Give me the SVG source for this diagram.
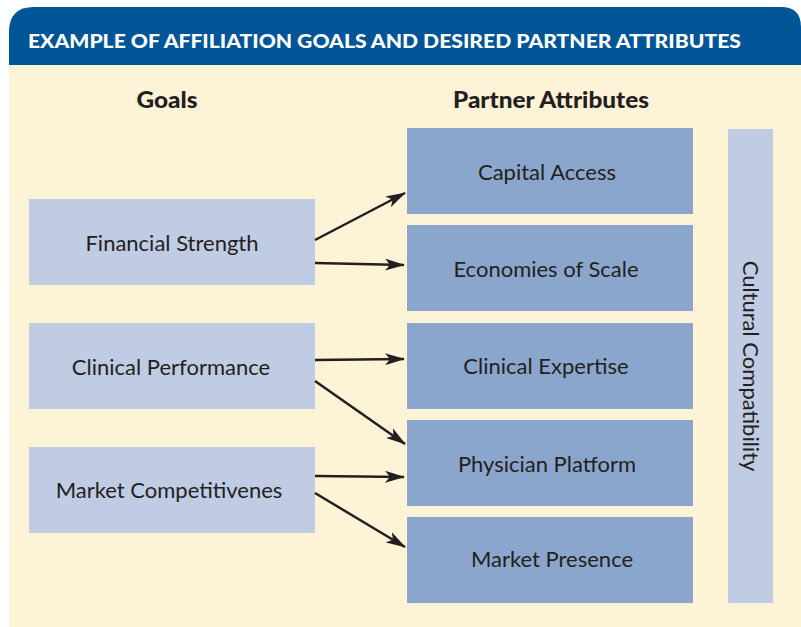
<svg xmlns="http://www.w3.org/2000/svg" width="801" height="627" viewBox="0 0 801 627">
  <defs>
    <style>
      .panel { fill: #FDF3D6; }
      .header { fill: #005596; }
      .title { font-family: Lato, "Open Sans", sans-serif; font-weight: 900; font-size: 19px; fill: #FFFFFF; }
      .heading { font-family: Lato, "Open Sans", sans-serif; font-weight: 900; font-size: 23px; fill: #231F20; text-anchor: middle; }
      .goal { fill: #C0CCE4; }
      .attr { fill: #8BA6CC; }
      .band { fill: #C0CCE4; }
      .label { font-family: Lato, "Open Sans", sans-serif; font-size: 22px; fill: #231F20; text-anchor: middle; dominant-baseline: central; }
      .link { stroke: #231F20; stroke-width: 2.5; fill: none; marker-end: url(#arrow); }
    </style>
    <marker id="arrow" viewBox="0 0 20 12" refX="19" refY="6" markerWidth="20" markerHeight="12" markerUnits="userSpaceOnUse" orient="auto">
      <path d="M0,0 L20,6 L0,12 L5,6 Z" fill="#231F20"/>
    </marker>
  </defs>

  <!-- background panel and header band -->
  <rect class="panel" x="9" y="40" width="792" height="587"/>
  <path class="header" d="M9,65 L9,32 Q9,7 34,7 L781,7 Q801,7 801,27 L801,65 Z"/>
  <text class="title" x="28" y="48" textLength="713" lengthAdjust="spacingAndGlyphs">EXAMPLE OF AFFILIATION GOALS AND DESIRED PARTNER ATTRIBUTES</text>

  <!-- column headings -->
  <text class="heading" x="167" y="108" textLength="61" lengthAdjust="spacingAndGlyphs">Goals</text>
  <text class="heading" x="551" y="108" textLength="196" lengthAdjust="spacingAndGlyphs">Partner Attributes</text>

  <!-- goals -->
  <g id="goal-financial">
    <rect class="goal" x="29" y="199" width="286" height="86"/>
    <text class="label" x="172" y="242">Financial Strength</text>
  </g>
  <g id="goal-clinical">
    <rect class="goal" x="29" y="323" width="286" height="86"/>
    <text class="label" x="171" y="366">Clinical Performance</text>
  </g>
  <g id="goal-market">
    <rect class="goal" x="29" y="447" width="286" height="86"/>
    <text class="label" x="169" y="489">Market Competitivenes</text>
  </g>

  <!-- partner attributes -->
  <g id="attr-capital">
    <rect class="attr" x="407" y="128" width="286" height="86"/>
    <text class="label" x="547" y="171">Capital Access</text>
  </g>
  <g id="attr-scale">
    <rect class="attr" x="407" y="225" width="286" height="86"/>
    <text class="label" x="546" y="268">Economies of Scale</text>
  </g>
  <g id="attr-expertise">
    <rect class="attr" x="407" y="323" width="286" height="86"/>
    <text class="label" x="546" y="365">Clinical Expertise</text>
  </g>
  <g id="attr-physician">
    <rect class="attr" x="407" y="420" width="286" height="86"/>
    <text class="label" x="547" y="463">Physician Platform</text>
  </g>
  <g id="attr-presence">
    <rect class="attr" x="407" y="517" width="286" height="86"/>
    <text class="label" x="552" y="558">Market Presence</text>
  </g>

  <!-- cultural compatibility band -->
  <g id="band-culture">
    <rect class="band" x="728" y="129" width="45" height="474"/>
    <text class="label" transform="translate(751,366) rotate(90)">Cultural Compatibility</text>
  </g>

  <!-- connectors -->
  <g id="connectors">
    <line class="link" x1="315" y1="240" x2="405" y2="193"/>
    <line class="link" x1="315" y1="263" x2="404" y2="265"/>
    <line class="link" x1="315" y1="360" x2="404" y2="359"/>
    <line class="link" x1="315" y1="381" x2="405" y2="444"/>
    <line class="link" x1="315" y1="476" x2="404" y2="477"/>
    <line class="link" x1="315" y1="493" x2="405" y2="547"/>
  </g>
</svg>
